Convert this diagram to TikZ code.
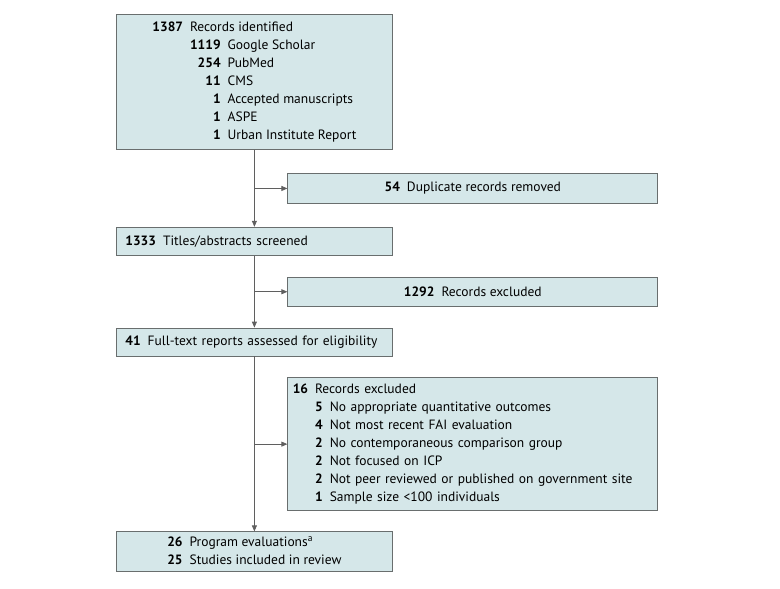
\documentclass[tikz,border=0pt]{standalone}
\usepackage{fontspec}
\setmainfont{PT Sans}
\usepackage{xcolor}
\definecolor{boxfill}{RGB}{213,231,233}
\definecolor{boxline}{RGB}{105,110,110}
\definecolor{flowline}{RGB}{95,95,95}
\usetikzlibrary{arrows.meta,positioning}

\newcommand{\nrec}[1]{\textbf{#1}}

\begin{document}
\begin{tikzpicture}[>={Triangle[length=6pt,width=5pt]},
    box/.style={draw=boxline, fill=boxfill, line width=0.8pt, font=\fontsize{13.5}{18}\selectfont},
    mainbox/.style={box, minimum width=276pt},
    leftbox/.style={box, text width=258pt, inner xsep=9pt, align=left, minimum height=28pt},
    sidebox/.style={box, minimum width=370pt, minimum height=29.5pt},
    flow/.style={draw=flowline, line width=0.8pt}]
        \useasboundingbox (0,0) rectangle (780pt,-589pt);

        % records identified
        \node (ident) [mainbox, minimum height=135pt, anchor=north west] at (116pt,-14pt) {%
            \begin{tabular}{@{}r@{\hspace{7pt}}r@{\hspace{7pt}}l@{}}
            \nrec{1387} & \multicolumn{2}{@{}l@{}}{Records identified}\\
             & \nrec{1119} & Google Scholar\\
             & \nrec{254} & PubMed\\
             & \nrec{11} & CMS\\
             & \nrec{1} & Accepted manuscripts\\
             & \nrec{1} & ASPE\\
             & \nrec{1} & Urban Institute Report
            \end{tabular}};
        \node (dupl) [sidebox, below right=23.5pt and 33pt of ident.south] {\nrec{54}\hspace{7pt}Duplicate records removed};

        % screening
        \node (screen) [leftbox, below=77pt of ident] {\mbox{\nrec{1333}\hspace{7pt}Titles/abstracts screened}};
        \node (excl) [sidebox, below right=21pt and 33pt of screen.south] {\nrec{1292}\hspace{7pt}Records excluded};

        % eligibility
        \node (full) [leftbox, below=72pt of screen] {\mbox{\nrec{41}\hspace{7pt}Full-text reports assessed for eligibility}};
        \node (fullexcl) [box, text width=360pt, inner xsep=5pt, align=left, minimum height=132pt,
            below right=21pt and 33pt of full.south] {%
            \begin{tabular}{@{}r@{\hspace{7pt}}r@{\hspace{7pt}}l@{}}
            \nrec{16} & \multicolumn{2}{@{}l@{}}{Records excluded}\\
             & \nrec{5} & No appropriate quantitative outcomes\\
             & \nrec{4} & Not most recent FAI evaluation\\
             & \nrec{2} & No contemporaneous comparison group\\
             & \nrec{2} & Not focused on ICP\\
             & \nrec{2} & Not peer reviewed or published on government site\\
             & \nrec{1} & Sample size <100 individuals
            \end{tabular}};

        % included
        \node (incl) [mainbox, inner ysep=2pt, minimum height=40pt, below=175pt of full] {%
            \begin{tabular}{@{}r@{\hspace{7pt}}l@{}}
            \nrec{26} & Program evaluations\textsuperscript{a}\\
            \nrec{25} & Studies included in review
            \end{tabular}};

        \draw[flow, ->] (ident) -- (screen);
        \draw[flow, ->] (screen) -- (full);
        \draw[flow, ->] (full) -- (incl);
        \draw[flow, ->] (ident.south |- dupl.west) -- (dupl);
        \draw[flow, ->] (screen.south |- excl.west) -- (excl);
        \draw[flow, ->] (full.south |- fullexcl.west) -- (fullexcl);
      \end{tikzpicture}
\end{document}
